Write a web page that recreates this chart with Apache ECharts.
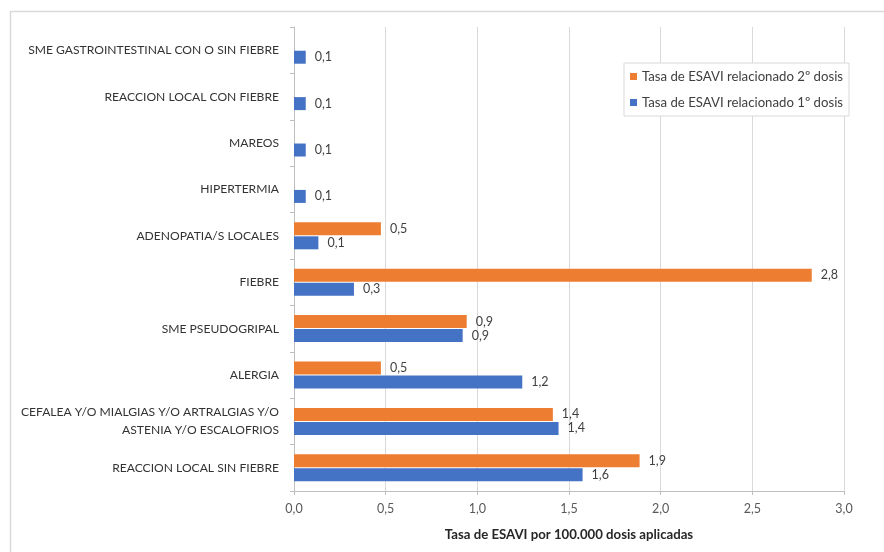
<!DOCTYPE html>
<html><head><meta charset="utf-8">
<script src="https://cdn.jsdelivr.net/npm/echarts@6/dist/echarts.min.js"></script>
<style>html,body{margin:0;padding:0;background:#fff}#c{width:884px;height:552px}</style>
</head><body><div id="c"></div>
<script>
const categories = [
  'REACCION LOCAL SIN FIEBRE',
  'CEFALEA Y/O MIALGIAS Y/O ARTRALGIAS Y/O\nASTENIA Y/O ESCALOFRIOS',
  'ALERGIA',
  'SME PSEUDOGRIPAL',
  'FIEBRE',
  'ADENOPATIA/S LOCALES',
  'HIPERTERMIA',
  'MAREOS',
  'REACCION LOCAL CON FIEBRE',
  'SME GASTROINTESTINAL CON O SIN FIEBRE'
];
const dosis1 = [1.574, 1.443, 1.245, 0.92, 0.327, 0.133, 0.064, 0.064, 0.064, 0.064];
const dosis2 = [1.885, 1.412, 0.474, 0.942, 2.824, 0.474, null, null, null, null];
const xTicks = [0, 0.5, 1, 1.5, 2, 2.5, 3];
const seriesNames = ['Tasa de ESAVI relacionado 2º dosis', 'Tasa de ESAVI relacionado 1º dosis'];

const font = "Lato,'Open Sans',sans-serif";
const fmt = v => v.toFixed(1).replace('.', ',');
const chart = echarts.init(document.getElementById('c'));
const labelCfg = {
  show: true, position: 'right', distance: 9,
  color: '#404040', fontSize: 12.5, fontFamily: font,
  formatter: p => p.value == null ? '' : fmt(p.value)
};
chart.setOption({
  animation: false,
  graphic: [{
    type: 'rect', shape: { x: 10.5, y: 11.5, width: 900, height: 600 },
    style: { fill: 'none', stroke: '#d9d9d9', lineWidth: 1.5 }, silent: true
  }],
  grid: { left: 294, right: 40, top: 27, bottom: 61 },
  legend: {
    orient: 'vertical', left: 624, top: 63,
    data: seriesNames,
    icon: 'rect', itemWidth: 7, itemHeight: 7, itemGap: 13,
    padding: [7, 6, 7, 6],
    borderColor: '#d9d9d9', borderWidth: 1, backgroundColor: '#fff',
    textStyle: { color: '#404040', fontSize: 13.2, fontFamily: font }
  },
  xAxis: {
    type: 'value', min: 0, max: 3, interval: 0.5,
    name: 'Tasa de ESAVI por 100.000 dosis aplicadas',
    nameLocation: 'middle', nameGap: 37,
    nameTextStyle: { color: '#262626', fontSize: 13.2, fontWeight: 'bold', fontFamily: font },
    axisLine: { show: true, lineStyle: { color: '#bfbfbf' } },
    axisTick: { show: true, length: 4, lineStyle: { color: '#bfbfbf' } },
    axisLabel: { color: '#595959', fontSize: 12.5, fontFamily: font, margin: 11, formatter: v => fmt(v) },
    splitLine: { show: true, lineStyle: { color: '#d9d9d9' } }
  },
  yAxis: {
    type: 'category', data: categories,
    axisLine: { show: true, lineStyle: { color: '#bfbfbf' } },
    axisTick: { show: true, length: 4, lineStyle: { color: '#bfbfbf' } },
    axisLabel: { color: '#333333', fontSize: 12.1, fontFamily: font, margin: 15, lineHeight: 18, align: 'right' }
  },
  series: [
    { name: seriesNames[0], type: 'bar', data: dosis2, barWidth: 13, barGap: '8%',
      itemStyle: { color: '#ed7d31' }, label: labelCfg, z: 2 },
    { name: seriesNames[1], type: 'bar', data: dosis1, barWidth: 13, barGap: '8%',
      itemStyle: { color: '#4472c4' }, label: labelCfg, z: 2 }
  ]
});
</script></body></html>
